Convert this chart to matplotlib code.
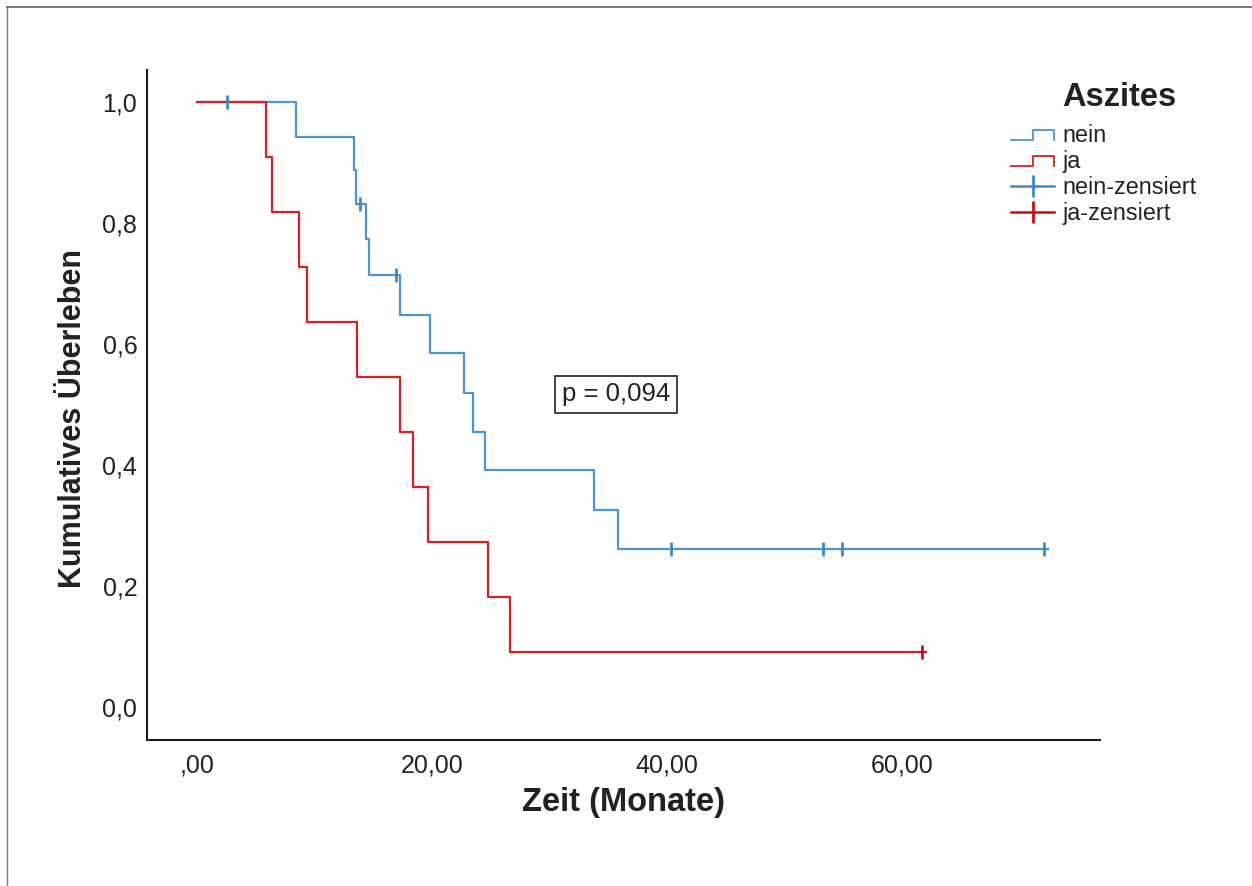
import matplotlib
matplotlib.use("Agg")
import matplotlib.pyplot as plt
from matplotlib.lines import Line2D
from matplotlib.legend_handler import HandlerBase

plt.rcParams['font.family'] = ['Liberation Sans', 'DejaVu Sans']

# ---- data ----
nein_times = [0, 8.4, 13.36, 13.5, 14.4, 14.6, 17.3, 19.8, 22.7, 23.5, 24.5, 33.8, 35.8]
nein_surv = [1.0, 0.942, 0.888, 0.831, 0.774, 0.714, 0.648, 0.585, 0.519, 0.455, 0.391, 0.326, 0.262]
nein_end = 72.4
nein_cens_t = [2.55, 13.9, 16.9, 40.3, 53.3, 54.9, 72.1]
nein_cens_s = [1.0, 0.831, 0.714, 0.262, 0.262, 0.262, 0.262]

ja_times = [0, 5.87, 6.35, 8.68, 9.36, 13.6, 17.3, 18.4, 19.7, 24.8, 26.6]
ja_surv = [1.0, 0.909, 0.818, 0.727, 0.636, 0.545, 0.455, 0.364, 0.273, 0.182, 0.091]
ja_end = 62.0
ja_cens_t = [61.7]
ja_cens_s = [0.091]

x_ticks = [0, 20, 40, 60]
x_ticklabels = [",00", "20,00", "40,00", "60,00"]
y_ticks = [0.0, 0.2, 0.4, 0.6, 0.8, 1.0]
y_ticklabels = ["0,0", "0,2", "0,4", "0,6", "0,8", "1,0"]
legend_labels = ["nein", "ja", "nein-zensiert", "ja-zensiert"]
p_text = "p = 0,094"

BLUE = "#4b95d3"
RED = "#d81e26"
BLUE_C = "#3f89c9"
RED_C = "#cc0a14"
TXT = "#222222"

W, H = 1252, 886
fig = plt.figure(figsize=(W / 100, H / 100), dpi=100)
ax = fig.add_axes([147 / W, 1 - 740 / H, (1100 - 147) / W, (740 - 70) / H])

ax.step(nein_times + [nein_end], nein_surv + [nein_surv[-1]], where='post',
        color=BLUE, lw=1.6, zorder=2)
ax.step(ja_times + [ja_end], ja_surv + [ja_surv[-1]], where='post',
        color=RED, lw=1.6, zorder=3)
ax.plot(nein_cens_t, nein_cens_s, ls='none', marker='|', ms=10, mew=2,
        color=BLUE_C, zorder=4)
ax.plot(ja_cens_t, ja_cens_s, ls='none', marker='|', ms=10, mew=2,
        color=RED_C, zorder=4)

ax.set_xlim(-4.255, 76.85)
ax.set_ylim(-0.0545, 1.0529)

for s in ['top', 'right']:
    ax.spines[s].set_visible(False)
for s in ['left', 'bottom']:
    ax.spines[s].set_linewidth(1.5)
    ax.spines[s].set_color('#1a1a1a')

ax.set_xticks(x_ticks)
ax.set_xticklabels(x_ticklabels)
ax.set_yticks(y_ticks)
ax.set_yticklabels(y_ticklabels)
ax.tick_params(axis='both', length=0, labelsize=18, labelcolor=TXT)
ax.tick_params(axis='x', pad=10)
ax.tick_params(axis='y', pad=7)

ax.set_xlabel("Zeit (Monate)", fontsize=23.5, fontweight='bold', color=TXT)
ax.set_ylabel("Kumulatives Überleben", fontsize=22, fontweight='bold', color=TXT)
ax.xaxis.set_label_coords(0.5, -0.07)
ax.yaxis.set_label_coords(-0.062, 0.48)

ax.text(35.66, 0.517, p_text, ha='center', va='center', fontsize=18.5, color=TXT,
        bbox=dict(boxstyle='square,pad=0.25', fc='white', ec='#333333', lw=1.3))


class StepHandler(HandlerBase):
    def create_artists(self, legend, orig_handle, xdescent, ydescent, width,
                       height, fontsize, trans):
        x0 = -xdescent
        y0 = -ydescent
        lo = y0 + 0.1 * height
        hi = y0 + 0.75 * height
        xs = [x0, x0 + 0.5 * width, x0 + 0.5 * width, x0 + width, x0 + width]
        ys = [lo, lo, hi, hi, lo]
        ln = Line2D(xs, ys, color=orig_handle.get_color(), lw=1.3)
        ln.set_transform(trans)
        return [ln]


h_nein = Line2D([], [], color=BLUE, lw=1.3)
h_ja = Line2D([], [], color=RED, lw=1.3)
h_nc = Line2D([], [], color=BLUE_C, lw=1.8, marker='|', ms=16, mew=2)
h_jc = Line2D([], [], color=RED_C, lw=1.8, marker='|', ms=16, mew=2)

leg = fig.legend([h_nein, h_ja, h_nc, h_jc], legend_labels,
                 handler_map={h_nein: StepHandler(), h_ja: StepHandler()},
                 loc='upper left', bbox_to_anchor=(1011 / W, 1 - 124 / H),
                 frameon=False, fontsize=16.8, handlelength=1.85,
                 handletextpad=0.35, labelspacing=0.13, borderpad=0,
                 borderaxespad=0, numpoints=1)
for t in leg.get_texts():
    t.set_color(TXT)

fig.text(1062 / W, 1 - 98 / H, "Aszites", ha='left', va='center',
         fontsize=23.5, fontweight='bold', color=TXT)

# outer frame lines
fig.add_artist(Line2D([7 / W, 1], [1 - 7 / H, 1 - 7 / H], transform=fig.transFigure,
                      color='#7a7a7a', lw=1.4))
fig.add_artist(Line2D([7 / W, 7 / W], [0, 1 - 7 / H], transform=fig.transFigure,
                      color='#7a7a7a', lw=1.0))

fig.savefig("out.png", dpi=100)
